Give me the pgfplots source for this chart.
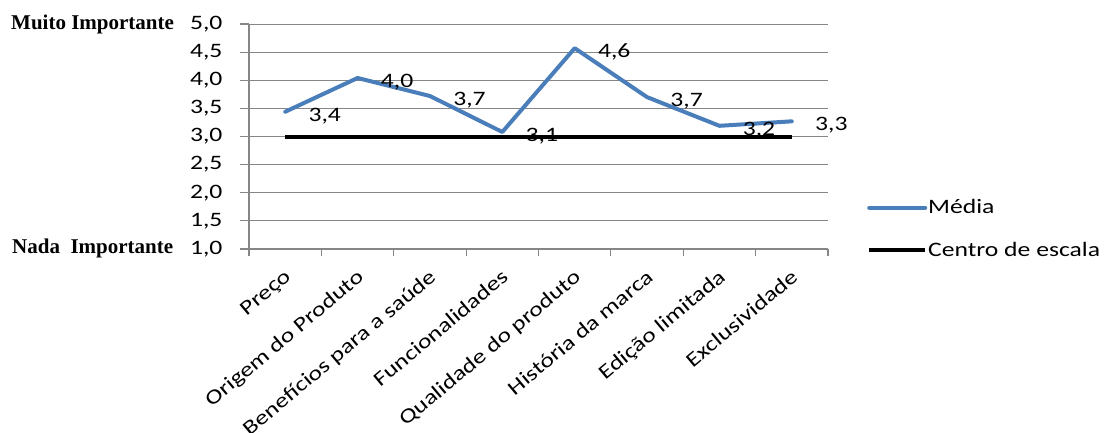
\documentclass[border=0pt]{standalone}
\usepackage{pgfplots}
\pgfplotsset{compat=1.18}
\usepackage{pgfplotstable}
\usepackage{fontspec}
\setmainfont{Carlito}[FakeStretch=1.25]
\newfontfamily\tnr{Liberation Serif}

\definecolor{exblue}{RGB}{74,126,187}
\definecolor{axgrey}{RGB}{134,134,134}

\pgfplotstableread{
x y lab
0 3.44 {3,4}
1 4.04 {4,0}
2 3.72 {3,7}
3 3.08 {3,1}
4 4.57 {4,6}
5 3.70 {3,7}
6 3.19 {3,2}
7 3.27 {3,3}
}\media

\begin{document}
\begin{tikzpicture}[font=\fontsize{20.5}{24}\selectfont]
\begin{axis}[
  at={(0pt,0pt)}, anchor=south west,
  scale only axis, width=579pt, height=225pt,
  xmin=-0.5, xmax=7.5, ymin=1, ymax=5,
  axis x line*=bottom, axis y line*=left,
  axis line style={axgrey, line width=1.2pt},
  tick align=outside,
  major tick length=9pt, minor tick length=7pt,
  ytick={1,1.5,2,2.5,3,3.5,4,4.5,5},
  ytick style={axgrey, line width=1.2pt},
  yticklabel style={xshift=-14pt, /pgf/number format/.cd, fixed, fixed zerofill, precision=1, use comma, assume math mode=true},
  ymajorgrids, grid style={axgrey, line width=1pt},
  xtick={0,1,2,3,4,5,6,7},
  xticklabels={Preço, Origem do Produto, Benefícios para a saúde, Funcionalidades, Qualidade do produto, História da marca, Edição limitada, Exclusividade},
  major x tick style={draw=none},
  minor xtick={-0.5,0.5,1.5,2.5,3.5,4.5,5.5,6.5,7.5},
  minor x tick style={axgrey, line width=1.2pt},
  xticklabel style={xshift=-2pt, yshift=-10pt, rotate=40, anchor=north east, inner sep=0pt},
  legend style={draw=none, fill=none, at={(1.0674,0.089)}, anchor=west, inner sep=0pt, row sep=25pt, nodes={inner sep=1pt}},
  legend cell align=left,
  legend image code/.code={\draw[#1] (0pt,0pt) -- (56pt,0pt);},
  clip=false,
]
\addplot[exblue, line width=4pt, line join=round, line cap=round,
  nodes near coords, point meta=explicit symbolic,
  every node near coord/.append style={black, anchor=west, xshift=18pt, yshift=-4pt}]
  table[x=x, y=y, meta=lab]{\media};
\addlegendentry{Média}
\addplot[black, line width=4pt] coordinates {(0,3) (7,3)};
\addlegendentry{Centro de escala}
\end{axis}
\node[anchor=base west, inner sep=0pt, font=\tnr\bfseries\fontsize{21}{24}\selectfont] at (-238pt,220pt) {Muito Importante};
\node[anchor=base west, inner sep=0pt, font=\tnr\bfseries\fontsize{21}{24}\selectfont] at (-237pt,-4pt) {Nada\ \ Importante};
\pgfresetboundingbox
\path[use as bounding box] (-249pt,-183pt) rectangle (857pt,249pt);
\end{tikzpicture}
\end{document}
